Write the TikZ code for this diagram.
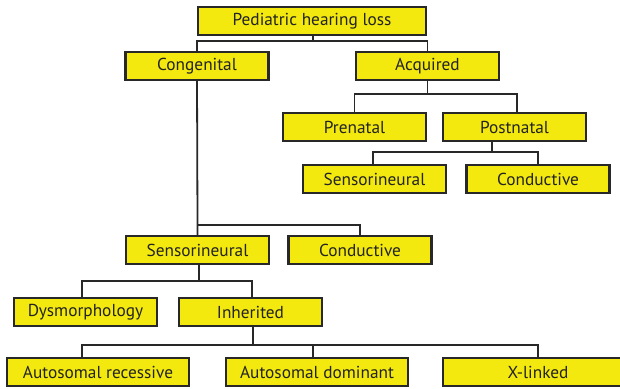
\documentclass[tikz,border=0pt]{standalone}
\usepackage{fontspec}
\setmainfont{PT Sans}
\definecolor{boxfill}{RGB}{243,233,14}
\definecolor{boxline}{RGB}{40,40,40}
\definecolor{txt}{RGB}{35,35,35}
\begin{document}
\begin{tikzpicture}[x=1pt,y=-1pt,
  catbox/.style={draw=boxline, line width=2.6pt, fill=boxfill, text=txt,
    minimum height=28pt, inner sep=0pt, outer sep=0pt,
    font=\fontsize{17.3}{19}\selectfont},
  w145/.style={minimum width=143pt},
  w184/.style={minimum width=182pt},
  link/.style={draw=boxline, line width=1.8pt}]
\useasboundingbox (0,0) rectangle (620,388);
\begin{scope}
\clip (0,0) rectangle (620,388);
% level 0
\node[catbox, minimum width=228pt] (root) at (312,21) {Pediatric hearing loss};
% level 1
\node[catbox, w145] (cong) at (197,66) {Congenital};
\node[catbox, w145] (acq) at (427.5,66) {Acquired};
% acquired branch
\node[catbox, w145] (pre) at (354.5,127) {Prenatal};
\node[catbox, w145] (post) at (514.5,127) {Postnatal};
\node[catbox, w145] (asens) at (374.5,179) {Sensorineural};
\node[catbox, w145] (acond) at (538,179) {Conductive};
% congenital branch
\node[catbox, w145] (csens) at (197.5,250) {Sensorineural};
\node[catbox, w145] (ccond) at (360,250) {Conductive};
\node[catbox, w145] (dys) at (85.5,312) {Dysmorphology};
\node[catbox, w145] (inh) at (250.5,312) {Inherited};
\node[catbox, w184] (ar) at (98,372) {Autosomal recessive};
\node[catbox, w184] (ad) at (317,372) {Autosomal dominant};
\node[catbox, minimum width=190pt] (xl) at (538,372) {X-linked};

% connectors: stem down to a bus, then down to each child
\draw[link] ([xshift=1pt]root.south) -- ++(0,6) coordinate (b0);
\draw[link] (cong.north) |- (b0) -| (acq.north);

\draw[link] (acq.south) -- ++(0,14) coordinate (b1);
\draw[link] (pre.north) |- (b1) -| ([xshift=2.5pt]post.north);

\draw[link] ([xshift=-22.5pt]post.south) -- ++(0,11) coordinate (b2);
\draw[link] ([xshift=-1.5pt]asens.north) |- (b2) -| (acond.north);

\draw[link] (cong.south) -- ([yshift=11pt]csens.north) coordinate (b3) -- (csens.north);
\draw[link] (b3) -| (ccond.north);

\draw[link] ([xshift=1.5pt]csens.south) -- ++(0,17) coordinate (b4);
\draw[link] ([xshift=-3.5pt]dys.north) |- (b4) -| ([xshift=1.5pt]inh.north);

\draw[link] ([xshift=2.5pt]inh.south) -- ++(0,19) coordinate (b5);
\draw[link] ([xshift=-16pt]ar.north) |- (b5) -| (xl.north);
\draw[link] ([xshift=-4pt]ad.north) -- ([xshift=-4pt]ad.north |- b5);
\end{scope}
\end{tikzpicture}
\end{document}
